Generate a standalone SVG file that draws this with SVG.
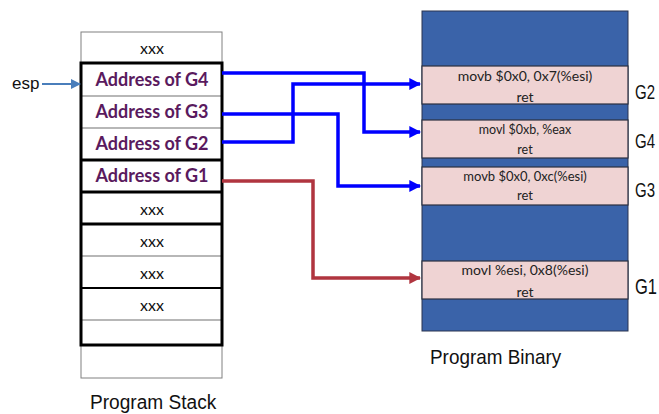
<svg xmlns="http://www.w3.org/2000/svg" width="659" height="414" viewBox="0 0 659 414">
<defs>
<style>
.cell{fill:#fff;stroke:#808080;stroke-width:1}
.thin{stroke:#707070;stroke-width:1.2}
.thick{stroke:#000;stroke-width:3}
.addr{font-family:Lato,"Open Sans",sans-serif;font-weight:bold;font-size:18px;fill:#5a1a5e;text-anchor:middle}
.xxx{font-family:Lato,"Open Sans",sans-serif;font-size:16px;fill:#111;text-anchor:middle}
.blue{fill:#3a63a9;stroke:#2a3550;stroke-width:1}
.pink{fill:#efd3d3;stroke:#2a3040;stroke-width:1.2}
.ins{font-family:Lato,"Open Sans",sans-serif;fill:#222;text-anchor:middle}
.lbl{font-family:"Liberation Sans",Arial,sans-serif;fill:#111}
.cb{fill:none;stroke:#0000ff;stroke-width:3.5}
.cr{fill:none;stroke:#b0353f;stroke-width:3.5}
</style>
<marker id="ab" viewBox="0 0 10 10" refX="9" refY="5" markerWidth="3.4" markerHeight="3.4" orient="auto" markerUnits="strokeWidth"><path d="M0,0 L10,5 L0,10 z" fill="#0000ff"/></marker>
<marker id="ar" viewBox="0 0 10 10" refX="9" refY="5" markerWidth="3.4" markerHeight="3.4" orient="auto" markerUnits="strokeWidth"><path d="M0,0 L10,5 L0,10 z" fill="#b0353f"/></marker>
<marker id="ae" viewBox="0 0 10 10" refX="9" refY="5" markerWidth="5" markerHeight="5" orient="auto" markerUnits="strokeWidth"><path d="M0,0 L10,5 L0,10 z" fill="#4a7ebb"/></marker>
</defs>

<g id="stack">
<rect class="cell" x="81" y="32" width="141" height="346"/>
<line class="thin" x1="81" y1="96" x2="222" y2="96"/>
<line class="thin" x1="81" y1="128" x2="222" y2="128"/>
<line class="thin" x1="81" y1="256" x2="222" y2="256"/>
<line class="thin" x1="81" y1="320" x2="222" y2="320"/>
<line stroke="#000" stroke-width="2" x1="81" y1="288" x2="222" y2="288"/>
<line class="thick" x1="81" y1="160" x2="222" y2="160"/>
<line class="thick" x1="81" y1="192" x2="222" y2="192"/>
<line class="thick" x1="81" y1="224" x2="222" y2="224"/>
<rect x="81" y="63" width="141" height="282" fill="none" stroke="#000" stroke-width="3"/>
<text class="xxx" x="152" y="54">xxx</text>
<text class="addr" x="152" y="86">Address of G4</text>
<text class="addr" x="152" y="118">Address of G3</text>
<text class="addr" x="152" y="150">Address of G2</text>
<text class="addr" x="152" y="182">Address of G1</text>
<text class="xxx" x="152" y="215">xxx</text>
<text class="xxx" x="152" y="247">xxx</text>
<text class="xxx" x="152" y="279">xxx</text>
<text class="xxx" x="152" y="311">xxx</text>
<text class="lbl" font-size="21" transform="translate(90,409) scale(0.91,1)">Program Stack</text>
</g>

<g id="esp">
<text class="lbl" x="12" y="89" font-size="17" font-family="Lato,sans-serif">esp</text>
</g>

<g id="binary">
<rect class="blue" x="422" y="11" width="206" height="320"/>
<rect class="pink" x="422" y="66" width="206" height="38"/>
<rect class="pink" x="422" y="120" width="206" height="38"/>
<rect class="pink" x="422" y="167" width="206" height="38"/>
<rect class="pink" x="422" y="261" width="206" height="38"/>
<text class="ins" x="525" y="81" font-size="14">movb $0x0, 0x7(%esi)</text>
<text class="ins" x="525" y="102" font-size="14">ret</text>
<text class="ins" x="525" y="134" font-size="12.5">movl $0xb, %eax</text>
<text class="ins" x="525" y="154" font-size="12.5">ret</text>
<text class="ins" x="525" y="181" font-size="13">movb $0x0, 0xc(%esi)</text>
<text class="ins" x="525" y="200" font-size="13">ret</text>
<text class="ins" x="525" y="275" font-size="14">movl %esi, 0x8(%esi)</text>
<text class="ins" x="525" y="297" font-size="14">ret</text>
<text class="lbl" font-size="20" transform="translate(635,99) scale(0.75,1)">G2</text>
<text class="lbl" font-size="20" transform="translate(635,148) scale(0.75,1)">G4</text>
<text class="lbl" font-size="20" transform="translate(635,197) scale(0.75,1)">G3</text>
<text class="lbl" font-size="22" transform="translate(635,294) scale(0.75,1)">G1</text>
<text class="lbl" font-size="21" transform="translate(430,364) scale(0.9,1)">Program Binary</text>
</g>

<g id="connectors">
<line x1="42" y1="84" x2="80" y2="84" stroke="#4a7ebb" stroke-width="2" marker-end="url(#ae)"/>
<polyline class="cb" points="222,73 364,73 364,132 420,132" marker-end="url(#ab)"/>
<polyline class="cb" points="222,114 338,114 338,186 420,186" marker-end="url(#ab)"/>
<polyline class="cb" points="222,142 293,142 293,84 420,84" marker-end="url(#ab)"/>
<polyline class="cr" points="222,181 313,181 313,278 420,278" marker-end="url(#ar)"/>
</g>
</svg>
